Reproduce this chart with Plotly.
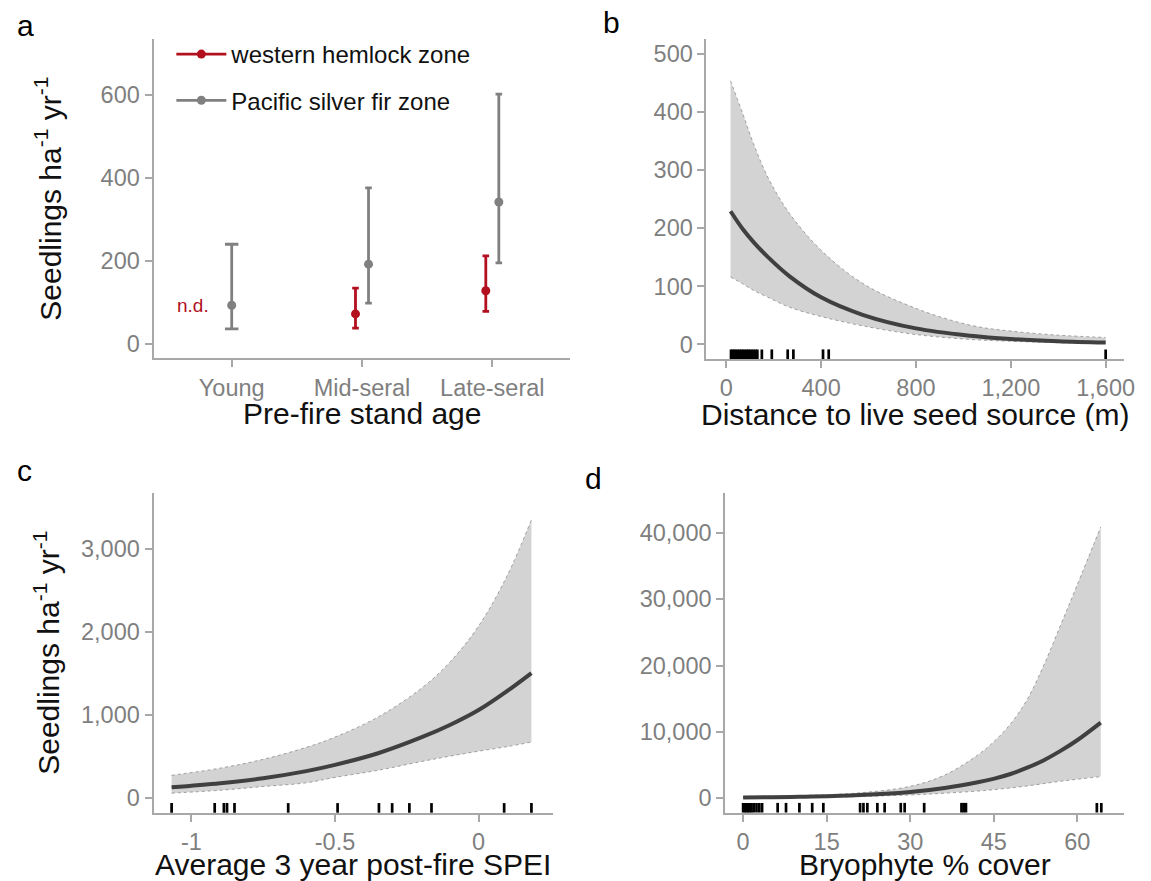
import plotly.graph_objects as go

W, H = 1151, 881

# ---------------- data ----------------
# panel a
stand_age = ["Young", "Mid-seral", "Late-seral"]
whz_mean = [None, 72, 128]
whz_lo = [None, 38, 78]
whz_hi = [None, 134, 212]
psf_mean = [93, 192, 342]
psf_lo = [36, 98, 195]
psf_hi = [240, 376, 602]

# panel b: distance to live seed source
dist_x = [18, 70, 115, 176, 267, 400, 575, 800, 1030, 1200, 1400, 1600]
dist_fit = [229, 198, 176, 150, 117, 81, 51, 27.6, 15, 9.4, 5.5, 3.2]
dist_hi = [453, 396, 345, 287, 225, 162, 105, 62, 33, 23, 16, 12]
dist_lo = [116, 104, 93, 81, 64, 48, 32, 17, 8.6, 5.5, 3, 1.5]
dist_rug = [20, 26, 33, 40, 48, 56, 63, 70, 78, 86, 93, 100, 108, 116, 124, 131,
            150, 192, 259, 283, 408, 432, 1600]

# panel c: SPEI
spei_x = [-1.069, -0.9, -0.75, -0.6, -0.5, -0.35, -0.2, -0.1, 0, 0.1, 0.184]
spei_fit = [130, 180, 240, 325, 400, 540, 730, 880, 1060, 1290, 1505]
spei_hi = [275, 361, 467, 611, 735, 977, 1320, 1636, 2070, 2680, 3350]
spei_lo = [60, 95, 140, 185, 250, 335, 440, 505, 565, 620, 675]
spei_rug = [-1.069, -0.919, -0.887, -0.876, -0.850, -0.663, -0.491, -0.347,
            -0.301, -0.241, -0.164, 0.089, 0.184]

# panel d: bryophyte cover
bryo_x = [0, 10, 20, 30, 36.2, 42.1, 45.1, 48, 51, 53.9, 56.9, 59.9, 64.2]
bryo_fit = [100, 210, 440, 950, 1550, 2400, 2950, 3650, 4600, 5700, 7100, 8700, 11400]
bryo_hi = [230, 380, 750, 1800, 3500, 6500, 8600, 11200, 14900, 19900, 25900, 32000, 40900]
bryo_lo = [45, 110, 240, 500, 760, 1080, 1300, 1550, 1850, 2200, 2550, 2850, 3260]
bryo_rug = [0, 0.3, 0.6, 0.9, 1.2, 1.5, 1.9, 2.4, 2.9, 3.4, 6.2, 7.7, 10.1, 12.4, 14.4,
            21.0, 21.6, 22.3, 24.1, 25.4, 28.3, 29.0, 32.5, 39.2, 39.6, 40.0, 63.5, 64.3]

x_titles = ["Pre-fire stand age", "Distance to live seed source (m)",
            "Average 3 year post-fire SPEI", "Bryophyte % cover"]
y_title = "Seedlings ha<sup>-1</sup> yr<sup>-1</sup>"
panel_tags = ["a", "b", "c", "d"]

# ---------------- styling ----------------
FONT = "Liberation Sans"
RED = "#B2101E"
GREY = "#808080"
AXC = "#A8A8A8"
TICKC = "#7F7F7F"
FILL = "#D3D3D3"
LINE = "#404040"
TICK_SIZE = 23.5
TITLE_SIZE = 30

# panel boxes in pixels: (left, right, top, bottom)
BOX = {
    "a": (155, 576, 39, 358.3),
    "b": (713.3, 1135, 39, 359),
    "c": (155, 558.3, 492.7, 812.7),
    "d": (732.3, 1135, 492.7, 812.5),
}
TITLE_GAP = {"a": 55.5, "b": 55.5, "c": 52, "d": 52}


def dom_x(k):
    l, r, t, b = BOX[k]
    return [l / W, r / W]


def dom_y(k):
    l, r, t, b = BOX[k]
    return [1 - b / H, 1 - t / H]


fig = go.Figure()

# ---------- panel a ----------
cat_pos = list(range(1, len(stand_age) + 1))
dodge = 0.05
red_x, red_y, red_p, red_m = [], [], [], []
for i, (m, lo, hi) in enumerate(zip(whz_mean, whz_lo, whz_hi)):
    if m is None:
        continue
    red_x.append(cat_pos[i] - dodge)
    red_y.append(m)
    red_p.append(hi - m)
    red_m.append(m - lo)

grey_single, grey_dodged = [], []
for i, (m, lo, hi) in enumerate(zip(psf_mean, psf_lo, psf_hi)):
    if whz_mean[i] is None:
        grey_single.append((cat_pos[i], m, hi - m, m - lo))
    else:
        grey_dodged.append((cat_pos[i] + dodge, m, hi - m, m - lo))

fig.add_trace(go.Scatter(
    x=red_x, y=red_y, mode="markers", xaxis="x", yaxis="y", showlegend=False,
    marker=dict(color=RED, size=9),
    error_y=dict(type="data", array=red_p, arrayminus=red_m, color=RED, thickness=2.8, width=3.3)))
for grp, w in ((grey_single, 6.7), (grey_dodged, 3.3)):
    fig.add_trace(go.Scatter(
        x=[g[0] for g in grp], y=[g[1] for g in grp], mode="markers", xaxis="x", yaxis="y",
        showlegend=False, marker=dict(color=GREY, size=9),
        error_y=dict(type="data", array=[g[2] for g in grp], arrayminus=[g[3] for g in grp],
                     color=GREY, thickness=2.8, width=w)))
# legend entries
fig.add_trace(go.Scatter(x=[None], y=[None], mode="lines+markers", name="western hemlock zone",
                         line=dict(color=RED, width=2.8), marker=dict(color=RED, size=9),
                         xaxis="x", yaxis="y", legendgroup="g1"))
fig.add_trace(go.Scatter(x=[None], y=[None], mode="lines+markers", name="Pacific silver fir zone",
                         line=dict(color=GREY, width=2.8), marker=dict(color=GREY, size=9),
                         xaxis="x", yaxis="y", legendgroup="g2"))


# ---------- ribbon panels ----------
def ribbon(xs, lo, hi, fit, xa, ya):
    fig.add_trace(go.Scatter(x=xs, y=lo, mode="lines", xaxis=xa, yaxis=ya, showlegend=False,
                             line=dict(color="#8C8C8C", width=0.8, dash="dot", shape="spline")))
    fig.add_trace(go.Scatter(x=xs, y=hi, mode="lines", xaxis=xa, yaxis=ya, showlegend=False,
                             fill="tonexty", fillcolor=FILL,
                             line=dict(color="#8C8C8C", width=0.8, dash="dot", shape="spline")))
    fig.add_trace(go.Scatter(x=xs, y=fit, mode="lines", xaxis=xa, yaxis=ya, showlegend=False,
                             line=dict(color=LINE, width=4, shape="spline")))


ribbon(dist_x, dist_lo, dist_hi, dist_fit, "x2", "y2")
ribbon(spei_x, spei_lo, spei_hi, spei_fit, "x3", "y3")
ribbon(bryo_x, bryo_lo, bryo_hi, bryo_fit, "x4", "y4")

shapes = []
for vals, xa, ya in ((dist_rug, "x2", "y2"), (spei_rug, "x3", "y3"), (bryo_rug, "x4", "y4")):
    for v in vals:
        shapes.append(dict(type="line", xref=xa, yref=ya + " domain", x0=v, x1=v, y0=0.0, y1=0.03,
                           line=dict(color="black", width=2.7)))


def axis(dom, rng, tickvals=None, ticktext=None, title=None, anchor=None, fmt=None, standoff=None):
    d = dict(domain=dom, range=rng, showline=True, linecolor=AXC, linewidth=2,
             ticks="outside", ticklen=7, tickwidth=2, tickcolor=AXC,
             showgrid=False, zeroline=False,
             tickfont=dict(family=FONT, size=TICK_SIZE, color=TICKC), anchor=anchor)
    if tickvals is not None:
        d["tickvals"] = tickvals
    if ticktext is not None:
        d["ticktext"] = ticktext
    if fmt:
        d["tickformat"] = fmt
    if title:
        d["title"] = dict(text=title, font=dict(family=FONT, size=TITLE_SIZE, color="#111111"),
                          standoff=standoff if standoff is not None else 10)
    return d


layout = dict(
    width=W, height=H, margin=dict(l=0, r=0, t=0, b=0),
    paper_bgcolor="white", plot_bgcolor="white",
    font=dict(family=FONT),
    showlegend=True,
    legend=dict(x=173 / W, y=1 - 32 / H, xanchor="left", yanchor="top",
                font=dict(family=FONT, size=24, color="#111111"),
                bgcolor="rgba(0,0,0,0)", tracegroupgap=12, itemwidth=50),
    xaxis=axis(dom_x("a"), [0.4, 3.6], tickvals=cat_pos, ticktext=stand_age, anchor="y"),
    yaxis=axis(dom_y("a"), [-35, 735], tickvals=[0, 200, 400, 600],
               title=y_title, anchor="x", standoff=30),
    xaxis2=axis(dom_x("b"), [-83.5, 1678], tickvals=[0, 400, 800, 1200, 1600], anchor="y2", fmt=","),
    yaxis2=axis(dom_y("b"), [-25, 525], tickvals=[0, 100, 200, 300, 400, 500], anchor="x2"),
    xaxis3=axis(dom_x("c"), [-1.132, 0.259], tickvals=[-1, -0.5, 0],
                ticktext=["-1", "-0.5", "0"], anchor="y3"),
    yaxis3=axis(dom_y("c"), [-175, 3675], tickvals=[0, 1000, 2000, 3000],
                title=y_title, anchor="x3", fmt=",", standoff=12),
    xaxis4=axis(dom_x("d"), [-3.2, 68.4], tickvals=[0, 15, 30, 45, 60], anchor="y4"),
    yaxis4=axis(dom_y("d"), [-2150, 46050], tickvals=[0, 10000, 20000, 30000, 40000],
                anchor="x4", fmt=","),
    shapes=shapes,
)

ann = []
# x-axis titles
for key, txt in zip("abcd", x_titles):
    l, r, t, b = BOX[key]
    ann.append(dict(text=txt, x=(l + r) / 2 / W, y=1 - (b + TITLE_GAP[key]) / H,
                    xref="paper", yref="paper",
                    showarrow=False, xanchor="center", yanchor="middle",
                    font=dict(family=FONT, size=TITLE_SIZE, color="#111111")))
# panel tags
for letter, (px, py) in zip(panel_tags, [(26, 25), (617, 23), (25, 471), (599, 478)]):
    ann.append(dict(text=letter, x=px / W, y=1 - py / H, xref="paper", yref="paper",
                    showarrow=False, xanchor="center", yanchor="middle",
                    font=dict(family=FONT, size=30, color="black")))
ann.append(dict(text="n.d.", x=cat_pos[0] - 0.3, y=psf_mean[0], xref="x", yref="y",
                showarrow=False, xanchor="center", yanchor="middle",
                font=dict(family=FONT, size=19, color=RED)))
layout["annotations"] = ann

fig.update_layout(**layout)
fig.write_html("out.html")
